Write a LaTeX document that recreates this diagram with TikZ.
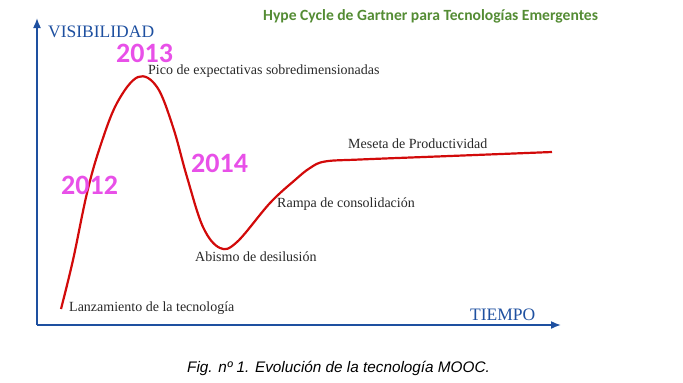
\documentclass[tikz,border=0pt]{standalone}
\usepackage{fontspec}
\setmainfont{Liberation Serif}
\newfontfamily\calibrifont{Carlito}
\newfontfamily\arialfont{Liberation Sans}
\usetikzlibrary{arrows.meta}
\definecolor{axisblue}{RGB}{30,80,160}
\definecolor{curvered}{RGB}{210,10,10}
\definecolor{yearpink}{RGB}{232,80,232}
\definecolor{titlegreen}{RGB}{84,140,52}
\definecolor{labelgray}{RGB}{40,40,40}

\begin{document}
\begin{tikzpicture}[
    x=1pt, y=-1pt,
    axis/.style={draw=axisblue, line width=1.6pt, -{Latex[length=10pt,width=8pt]}},
    axislabel/.style={text=axisblue, font=\fontsize{17.5}{19}\selectfont, anchor=west, inner sep=0pt},
    phase/.style={text=labelgray, font=\fontsize{14}{16}\selectfont, anchor=west, inner sep=0pt},
    year/.style={text=yearpink, font=\calibrifont\bfseries\fontsize{28}{30}\selectfont, anchor=west, inner sep=0pt},
    hype/.style={draw=curvered, line width=2.2pt, line join=round}
]
\useasboundingbox (0,0) rectangle (683,383);

% Ejes
\coordinate (origin) at (37,325);
\coordinate (ytip) at (37,18);
\coordinate (xtip) at (561,325);
\draw[axis] (origin) -- (ytip);
\draw[axis] (origin) -- (xtip);
\node[axislabel] (vis) at (48,32) {VISIBILIDAD};
\node[axislabel] (tiempo) at (470,315) {TIEMPO};

% Titulo
\node[text=titlegreen, font=\calibrifont\bfseries\fontsize{15.6}{17}\selectfont, anchor=west, inner sep=0pt] (title) at (263,16) {Hype Cycle de Gartner para Tecnologías Emergentes};

% Curva
\draw[hype] plot[smooth, tension=0.6] coordinates {
    (61,309) (73,260) (87,193) (100,147) (117,103) (138,77) (157,87)
    (173,127) (187,177) (203,227) (220,248) (237,242) (270,203)
    (295,180) (310,168) (325,161.5) (360,159.5) (450,156) (552,152)};

% Fases
\node[phase] (pico) at (148,71) {Pico de expectativas sobredimensionadas};
\node[phase] (meseta) at (348,144) {Meseta de Productividad};
\node[phase] (rampa) at (277,204) {Rampa de consolidación};
\node[phase] (abismo) at (195,257) {Abismo de desilusión};
\node[phase] (lanz) at (69,308) {Lanzamiento de la tecnología};

% Anos
\node[year] (y2012) at (61,185) {2012};
\node[year] (y2013) at (116,53) {2013};
\node[year] (y2014) at (191,163) {2014};

% Pie de figura
\node[font=\arialfont\itshape\fontsize{15.3}{17}\selectfont, anchor=west, inner sep=0pt] (caption) at (187,368) {Fig. nº 1. Evolución de la tecnología MOOC.};

\end{tikzpicture}
\end{document}
